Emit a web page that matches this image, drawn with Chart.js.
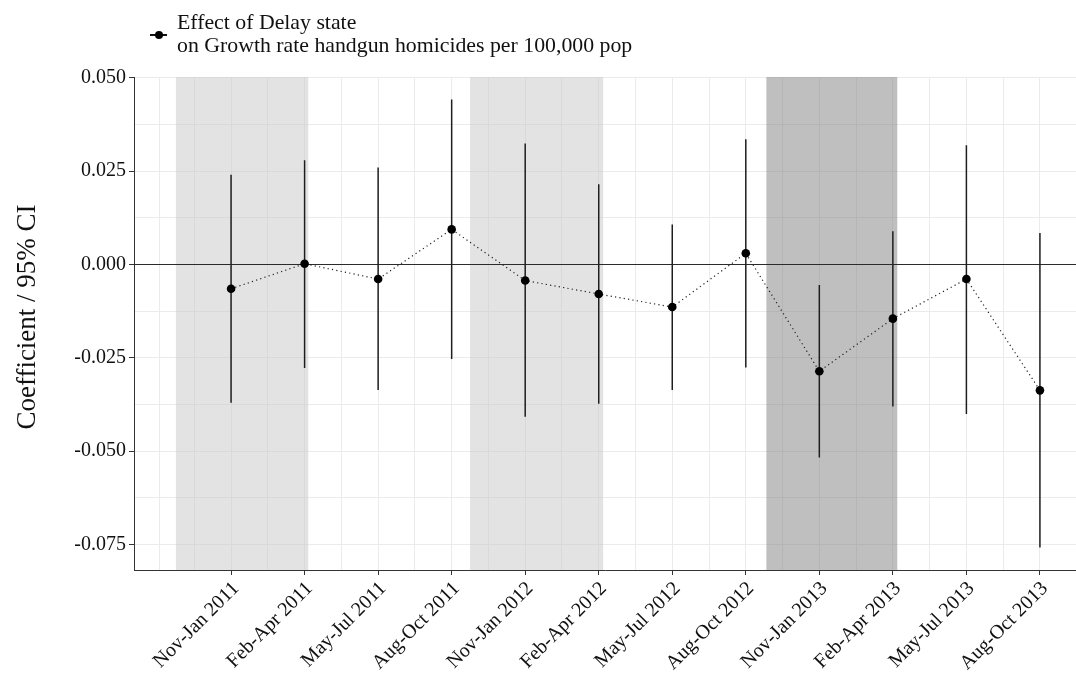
<!DOCTYPE html>
<html>
<head>
<meta charset="utf-8">
<script src="https://cdn.jsdelivr.net/npm/chart.js@4/dist/chart.umd.min.js"></script>
<style>
  html, body { margin: 0; padding: 0; background: #fff; overflow: hidden; }
  #wrap { position: relative; width: 1076px; height: 673px; overflow: hidden; }
  #c { position: absolute; left: 0; top: 0; }
  #legend {
    position: absolute; left: 177px; top: 10.5px;
    font-family: 'Liberation Serif', serif; font-size: 21.8px; line-height: 23.5px;
    color: #111; white-space: nowrap;
  }
  #ytitle {
    position: absolute; left: -124px; top: 300.5px; width: 300px; height: 32px;
    line-height: 32px; text-align: center; white-space: nowrap;
    font-family: 'Liberation Serif', serif; font-size: 27px; color: #111;
    transform: rotate(-90deg); transform-origin: 50% 50%;
  }
  .key-line { position: absolute; left: 150px; top: 34px; width: 17px; height: 1.5px; background: #111; }
  .key-dot { position: absolute; left: 154.5px; top: 30.5px; width: 8.5px; height: 8.5px; border-radius: 50%; background: #000; }
</style>
</head>
<body>
<div id="wrap">
  <canvas id="c" width="1081" height="673"></canvas>
  <div class="key-line"></div>
  <div class="key-dot"></div>
  <div id="legend">Effect of Delay state<br>on Growth rate handgun homicides per 100,000 pop</div>
  <div id="ytitle">Coefficient / 95% CI</div>
</div>
<script>
// Quarterly periods on the x axis
const categories = [
  'Nov-Jan 2011', 'Feb-Apr 2011', 'May-Jul 2011', 'Aug-Oct 2011',
  'Nov-Jan 2012', 'Feb-Apr 2012', 'May-Jul 2012', 'Aug-Oct 2012',
  'Nov-Jan 2013', 'Feb-Apr 2013', 'May-Jul 2013', 'Aug-Oct 2013'
];

// Point estimates and 95% confidence bounds
const estimate = [-0.0065, 0.0002, -0.0039, 0.0094, -0.0043, -0.0079, -0.0114, 0.0030, -0.0286, -0.0145, -0.0039, -0.0337];
const ciLow    = [-0.0370, -0.0277, -0.0336, -0.0253, -0.0408, -0.0373, -0.0336, -0.0276, -0.0517, -0.0380, -0.0400, -0.0758];
const ciHigh   = [ 0.0240, 0.0279, 0.0260, 0.0442, 0.0324, 0.0215, 0.0107, 0.0335, -0.0055, 0.0089, 0.0319, 0.0084];

// Shaded periods (in category units along x)
const shadeStart = [-0.75, 3.25, 7.28];
const shadeEnd   = [ 1.05, 5.06, 9.06];
const shadeFill  = ['rgba(199,199,199,0.5)', 'rgba(199,199,199,0.5)', 'rgba(127,127,127,0.5)'];

// Axis tick values (major + minor grid)
const yTicks = [-0.075, -0.0625, -0.05, -0.0375, -0.025, -0.0125, 0, 0.0125, 0.025, 0.0375, 0.05];
const xTicks = [-0.97, -0.5, 0, 0.5, 1, 1.5, 2, 2.5, 3, 3.5, 4, 4.5, 5, 5.5, 6, 6.5, 7, 7.5, 8, 8.5, 9, 9.5, 10, 10.5, 11, 11.5];

const FONT = "'Liberation Serif', serif";

const isMajorY = v => Math.abs(v * 40 - Math.round(v * 40)) < 1e-9;
const isMajorX = v => Number.isInteger(v) && v >= 0 && v < categories.length;

// Shaded periods and the zero reference line, drawn over the grid and under the data
const backdrop = {
  id: 'backdrop',
  beforeDatasetsDraw(chart) {
    const { ctx, chartArea: a, scales: { x, y } } = chart;
    ctx.save();
    shadeStart.forEach((s, i) => {
      const x0 = x.getPixelForValue(s);
      const x1 = x.getPixelForValue(shadeEnd[i]);
      ctx.fillStyle = shadeFill[i];
      ctx.fillRect(x0, a.top, x1 - x0, a.bottom - a.top);
    });
    const y0 = Math.round(y.getPixelForValue(0)) + 0.5;
    ctx.strokeStyle = '#2b2b2b';
    ctx.lineWidth = 1.1;
    ctx.beginPath();
    ctx.moveTo(a.left, y0);
    ctx.lineTo(a.right, y0);
    ctx.stroke();
    ctx.restore();
  }
};

const ciSegments = categories.flatMap((_, i) => [
  { x: i, y: ciLow[i] },
  { x: i, y: ciHigh[i] },
  { x: i, y: null }
]);

new Chart(document.getElementById('c'), {
  type: 'line',
  data: {
    datasets: [
      {
        label: 'Effect of Delay state',
        data: categories.map((_, i) => ({ x: i, y: estimate[i] })),
        borderColor: '#222',
        borderWidth: 1.2,
        borderDash: [1.2, 3.2],
        pointRadius: 4.3,
        pointHoverRadius: 4.3,
        pointBackgroundColor: '#000',
        pointBorderWidth: 0,
        tension: 0
      },
      {
        label: '95% CI',
        data: ciSegments,
        borderColor: '#1e1e1e',
        borderWidth: 1.5,
        pointRadius: 0,
        spanGaps: false,
        tension: 0
      }
    ]
  },
  options: {
    responsive: false,
    animation: false,
    events: [],
    layout: { padding: { top: 77, right: 0, bottom: 0, left: 0 } },
    plugins: { legend: { display: false }, tooltip: { enabled: false } },
    scales: {
      x: {
        type: 'linear',
        min: -1.32,
        max: 11.5,
        afterBuildTicks(scale) { scale.ticks = xTicks.map(v => ({ value: v })); },
        afterFit(scale) { scale.height = 103; scale.paddingLeft = 0; scale.paddingRight = 0; },
        grid: {
          color: '#ebebeb',
          lineWidth: 1,
          tickLength: 5,
          tickColor: ctx => (ctx.tick && isMajorX(ctx.tick.value)) ? '#333' : 'rgba(0,0,0,0)'
        },
        border: { display: true, color: '#333', width: 1 },
        ticks: {
          autoSkip: false,
          minRotation: 45,
          maxRotation: 45,
          padding: 2,
          labelOffset: 5,
          color: '#111',
          font: { family: FONT, size: 20 },
          callback: v => isMajorX(v) ? categories[v] : ''
        }
      },
      y: {
        type: 'linear',
        min: -0.0818,
        max: 0.0502,
        afterBuildTicks(scale) { scale.ticks = yTicks.map(v => ({ value: v })); },
        afterFit(scale) { scale.width = 134; },
        grid: {
          color: '#ebebeb',
          lineWidth: 1,
          tickLength: 5,
          tickColor: ctx => (ctx.tick && isMajorY(ctx.tick.value)) ? '#333' : 'rgba(0,0,0,0)'
        },
        border: { display: true, color: '#333', width: 1 },
        ticks: {
          padding: 3,
          color: '#111',
          font: { family: FONT, size: 20 },
          callback: v => {
            if (!isMajorY(v)) return '';
            const r = Math.round(v * 1000) / 1000;
            return (r === 0 ? 0 : r).toFixed(3);
          }
        }
      }
    }
  },
  plugins: [backdrop]
});
</script>
</body>
</html>
